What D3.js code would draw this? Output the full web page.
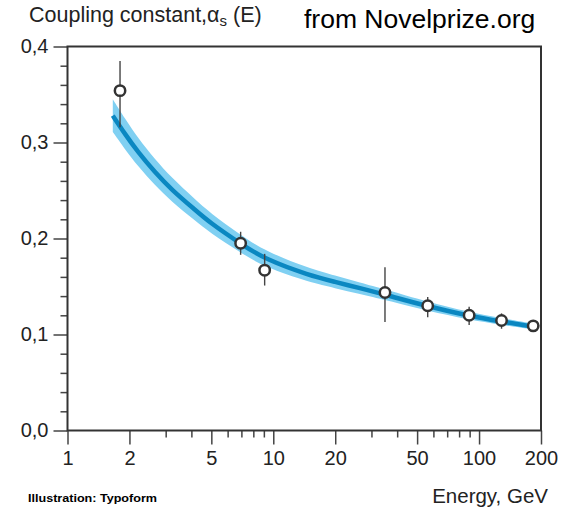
<!DOCTYPE html>
<html>
<head>
<meta charset="utf-8">
<script src="https://cdn.jsdelivr.net/npm/d3@7"></script>
<style>
  body { margin: 0; background: #fff; }
  text { font-family: "Liberation Sans", Arial, sans-serif; fill: #222; }
  .tick line { stroke: #444; stroke-width: 1.5; }
</style>
</head>
<body>
<svg width="574" height="510"></svg>
<script>
// measurements (energy in GeV, coupling alpha_s)
var pointE   = [1.80, 6.94, 9.08, 34.9, 56.3, 89.5, 128.6, 183.3];
var pointA   = [0.354, 0.195, 0.167, 0.1437, 0.130, 0.120, 0.1146, 0.109];
var pointLo  = [0.316, 0.183, 0.151, 0.113, 0.118, 0.110, 0.106, 0.109];
var pointHi  = [0.385, 0.207, 0.184, 0.170, 0.139, 0.129, 0.122, 0.109];

// QCD curve, with its uncertainty band
var curveE   = [1.66, 1.9, 2.2, 2.66, 3.2, 4.16, 4.92, 6.94, 9.1, 15, 20, 26.3, 35, 56.3, 88.8, 128, 186];
var curveA   = [0.328, 0.309, 0.290, 0.269, 0.251, 0.230, 0.2165, 0.1945, 0.1785, 0.1615, 0.1548, 0.1483, 0.1415, 0.1292, 0.1195, 0.1135, 0.108];
var bandLo   = [0.311, 0.293, 0.2752, 0.2555, 0.2385, 0.219, 0.2061, 0.1853, 0.170, 0.1543, 0.1483, 0.1423, 0.1360, 0.1245, 0.1155, 0.110, 0.105];
var bandHi   = [0.345, 0.325, 0.3048, 0.2825, 0.2635, 0.241, 0.2269, 0.2037, 0.187, 0.1687, 0.1613, 0.1543, 0.1470, 0.1339, 0.1235, 0.117, 0.111];

var xMajor = [1, 2, 5, 10, 20, 50, 100, 200];
var xMinor = [3, 4, 6, 7, 8, 9, 30, 40, 60, 70, 80, 90];
var yMajor = [0, 0.1, 0.2, 0.3, 0.4];
var yMinor = [0.02, 0.04, 0.06, 0.08, 0.12, 0.14, 0.16, 0.18, 0.22, 0.24, 0.26, 0.28, 0.32, 0.34, 0.36, 0.38];

var svg = d3.select("svg");
var x = d3.scaleLog().domain([1, 200]).range([67.5, 541]);
var y = d3.scaleLinear().domain([0, 0.4]).range([430.5, 46.5]);

var comma = d3.formatLocale({decimal: ",", thousands: ".", grouping: [3], currency: ["", ""]}).format(".1f");

var curve = curveE.map(function(e, i){ return {e: e, a: curveA[i], lo: bandLo[i], hi: bandHi[i]}; });

// band
svg.append("path").datum(curve)
  .attr("fill", "#80d0f2")
  .attr("d", d3.area().curve(d3.curveBasis)
    .x(function(d){ return x(d.e); })
    .y0(function(d){ return y(d.lo); })
    .y1(function(d){ return y(d.hi); }));

// central line
svg.append("path").datum(curve)
  .attr("fill", "none")
  .attr("stroke", "#0a87c1")
  .attr("stroke-width", 4.5)
  .attr("d", d3.line().curve(d3.curveBasis)
    .x(function(d){ return x(d.e); })
    .y(function(d){ return y(d.a); }));

// axes
var gx = svg.append("g").attr("transform", "translate(0," + y(0) + ")");
gx.call(d3.axisBottom(x).tickValues(xMajor).tickFormat(d3.format("d")).tickSize(14).tickSizeOuter(0).tickPadding(6));
gx.call(function(g){ g.select(".domain").remove(); });
gx.selectAll("text").attr("font-size", 20).attr("font-family", null).attr("fill", "#222");
svg.append("g").attr("transform", "translate(0," + y(0) + ")")
  .call(d3.axisBottom(x).tickValues(xMinor).tickFormat("").tickSize(7).tickSizeOuter(0))
  .call(function(g){ g.select(".domain").remove(); });

var gy = svg.append("g").attr("transform", "translate(" + x(1) + ",0)");
gy.call(d3.axisLeft(y).tickValues(yMajor).tickFormat(comma).tickSize(14).tickSizeOuter(0).tickPadding(5));
gy.call(function(g){ g.select(".domain").remove(); });
gy.selectAll("text").attr("font-size", 20).attr("font-family", null).attr("fill", "#222");
svg.append("g").attr("transform", "translate(" + x(1) + ",0)")
  .call(d3.axisLeft(y).tickValues(yMinor).tickFormat("").tickSize(7).tickSizeOuter(0))
  .call(function(g){ g.select(".domain").remove(); });

// frame
svg.append("rect")
  .attr("x", x(1)).attr("y", y(0.4))
  .attr("width", x(200) - x(1)).attr("height", y(0) - y(0.4))
  .attr("fill", "none").attr("stroke", "#333").attr("stroke-width", 2);

// error bars and points
var pts = pointE.map(function(e, i){ return {e: e, a: pointA[i], lo: pointLo[i], hi: pointHi[i]}; });
svg.append("g").selectAll("line").data(pts).enter().append("line")
  .attr("x1", function(d){ return x(d.e); }).attr("x2", function(d){ return x(d.e); })
  .attr("y1", function(d){ return y(d.lo); }).attr("y2", function(d){ return y(d.hi); })
  .attr("stroke", "#444").attr("stroke-width", 1.4);
svg.append("g").selectAll("circle").data(pts).enter().append("circle")
  .attr("cx", function(d){ return x(d.e); })
  .attr("cy", function(d){ return y(d.a); })
  .attr("r", 5.2)
  .attr("fill", "#fff").attr("stroke", "#333").attr("stroke-width", 2.5);

// texts
var title = svg.append("text").attr("x", 29).attr("y", 22).attr("font-size", 21.5);
title.append("tspan").text("Coupling constant,α");
title.append("tspan").attr("font-size", 15).attr("dy", 4).text("s");
title.append("tspan").attr("dy", -4).text(" (E)");

svg.append("text").attr("x", 304).attr("y", 28).attr("font-size", 26.5).style("fill", "#000")
  .text("from Novelprize.org");

svg.append("text").attr("x", 548).attr("y", 503).attr("font-size", 20.5).attr("text-anchor", "end")
  .text("Energy, GeV");

svg.append("text").attr("x", 28).attr("y", 502).attr("font-size", 11.5)
  .attr("font-family", "'DejaVu Sans Condensed', sans-serif").attr("font-weight", 600)
  .attr("textLength", 129).attr("lengthAdjust", "spacingAndGlyphs")
  .style("fill", "#000")
  .text("Illustration: Typoform");
</script>
</body>
</html>
